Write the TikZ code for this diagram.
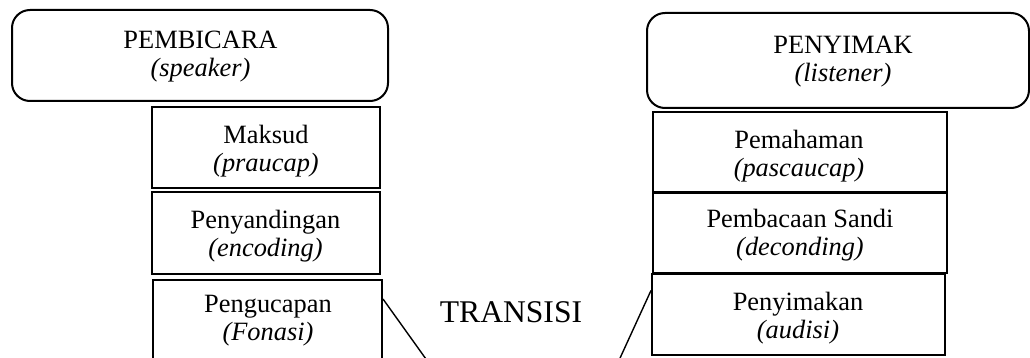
\documentclass[tikz,border=0pt]{standalone}
\usepackage{fontspec}
\setmainfont{Liberation Serif}
\usetikzlibrary{calc}

\tikzset{
  frame/.style={draw, line width=1pt, inner sep=0pt},
  roundframe/.style={frame, rounded corners=9pt},
  stagebox/.style={frame},
  caption/.style={align=center, inner sep=0pt,
    font=\fontsize{13.2}{14}\selectfont},
  bigcaption/.style={inner sep=0pt, font=\fontsize{15.8}{18}\selectfont},
  link/.style={line width=0.7pt}
}

\begin{document}
\begin{tikzpicture}[x=0.5pt, y=-0.5pt]
  \useasboundingbox (0,0) rectangle (1030,358);
  \clip (0,0) rectangle (1030,358);

  % speaker and listener
  \node[roundframe, minimum width=188pt, minimum height=45.5pt] (speaker) at (200,55.5) {};
  \node[caption] (speakertxt) at (200.5,56.3) {PEMBICARA\\\textit{(speaker)}};

  \node[roundframe, minimum width=191pt, minimum height=47.5pt] (listener) at (838,60.5) {};
  \node[caption] (listenertxt) at (843,61.3) {PENYIMAK\\\textit{(listener)}};

  % speaker side stages
  \node[stagebox, minimum width=114pt, minimum height=40.5pt] (maksud) at (266,147.5) {};
  \node[caption] (maksudtxt) at (266,151.3) {Maksud\\\textit{(praucap)}};

  \node[stagebox, minimum width=114pt, minimum height=41pt] (encode) at (266,233) {};
  \node[caption] (encodetxt) at (265.5,236.5) {Penyandingan\\\textit{(encoding)}};

  \node[stagebox, minimum width=114.5pt, minimum height=42pt] (fonasi) at (267.5,322) {};
  \node[caption] (fonasitxt) at (268,321) {Pengucapan\\\textit{(Fonasi)}};

  % listener side stages
  \node[stagebox, minimum width=147pt, minimum height=40pt] (paham) at (799.5,152) {};
  \node[caption] (pahamtxt) at (799,155.7) {Pemahaman\\\textit{(pascaucap)}};

  \node[stagebox, minimum width=147pt, minimum height=40pt] (decode) at (800,233) {};
  \node[caption] (decodetxt) at (800,235.3) {Pembacaan Sandi\\\textit{(deconding)}};

  \node[stagebox, minimum width=146.5pt, minimum height=40.5pt] (audisi) at (798.5,315) {};
  \node[caption] (audisitxt) at (798,318) {Penyimakan\\\textit{(audisi)}};

  % transition channel
  \node[bigcaption, anchor=base] (transisi) at (511,322) {TRANSISI};

  \coordinate (leftend) at (441,380);
  \coordinate (rightend) at (610,380);
  \draw[link] ($(fonasi.north east)+(0,20)$) -- (leftend);
  \draw[link] ($(audisi.north west)+(0,17)$) -- (rightend);
\end{tikzpicture}
\end{document}
